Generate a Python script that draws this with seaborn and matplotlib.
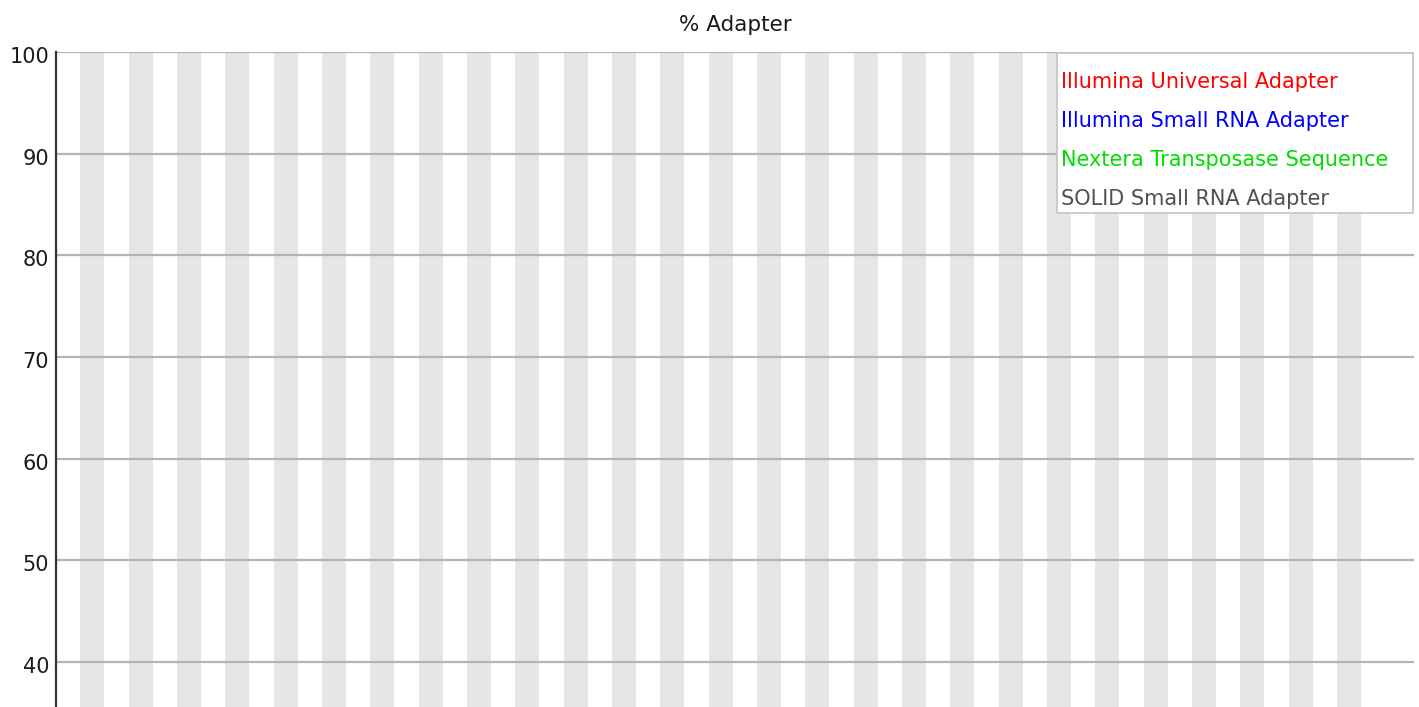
import numpy as np
import pandas as pd
import matplotlib
matplotlib.use("Agg")
import matplotlib.pyplot as plt
from matplotlib.patches import Rectangle
from matplotlib.transforms import ScaledTranslation
import seaborn as sns


# Position groups along the read (x categories, 54 groups)
positions = ["1", "2", "3", "4", "5", "6", "7", "8", "9",
             "10-11", "12-13", "14-15", "16-17", "18-19", "20-21", "22-23", "24-25",
             "26-27", "28-29", "30-31", "32-33", "34-35", "36-37", "38-39", "40-41",
             "42-43", "44-45", "46-47", "48-49", "50-51", "52-53", "54-55", "56-57",
             "58-59", "60-61", "62-63", "64-65", "66-67", "68-69", "70-71", "72-73",
             "74-75", "76-77", "78-79", "80-81", "82-83", "84-85", "86-87", "88-89",
             "90-91", "92-93", "94-95", "96-97", "98-99"]

# % adapter per position (all at zero, below the visible part of the plot)
illumina_universal = [0.0, 0.0, 0.0, 0.0, 0.0, 0.0, 0.0, 0.0, 0.0, 0.0, 0.0, 0.0, 0.0, 0.0,
                      0.0, 0.0, 0.0, 0.0, 0.0, 0.0, 0.0, 0.0, 0.0, 0.0, 0.0, 0.0, 0.0, 0.0,
                      0.0, 0.0, 0.0, 0.0, 0.0, 0.0, 0.0, 0.0, 0.0, 0.0, 0.0, 0.0, 0.0, 0.0,
                      0.0, 0.0, 0.0, 0.0, 0.0, 0.0, 0.0, 0.0, 0.0, 0.0, 0.0, 0.0]
illumina_small_rna = [0.0, 0.0, 0.0, 0.0, 0.0, 0.0, 0.0, 0.0, 0.0, 0.0, 0.0, 0.0, 0.0, 0.0,
                      0.0, 0.0, 0.0, 0.0, 0.0, 0.0, 0.0, 0.0, 0.0, 0.0, 0.0, 0.0, 0.0, 0.0,
                      0.0, 0.0, 0.0, 0.0, 0.0, 0.0, 0.0, 0.0, 0.0, 0.0, 0.0, 0.0, 0.0, 0.0,
                      0.0, 0.0, 0.0, 0.0, 0.0, 0.0, 0.0, 0.0, 0.0, 0.0, 0.0, 0.0]
nextera = [0.0, 0.0, 0.0, 0.0, 0.0, 0.0, 0.0, 0.0, 0.0, 0.0, 0.0, 0.0, 0.0, 0.0,
           0.0, 0.0, 0.0, 0.0, 0.0, 0.0, 0.0, 0.0, 0.0, 0.0, 0.0, 0.0, 0.0, 0.0,
           0.0, 0.0, 0.0, 0.0, 0.0, 0.0, 0.0, 0.0, 0.0, 0.0, 0.0, 0.0, 0.0, 0.0,
           0.0, 0.0, 0.0, 0.0, 0.0, 0.0, 0.0, 0.0, 0.0, 0.0, 0.0, 0.0]
solid_small_rna = [0.0, 0.0, 0.0, 0.0, 0.0, 0.0, 0.0, 0.0, 0.0, 0.0, 0.0, 0.0, 0.0, 0.0,
                   0.0, 0.0, 0.0, 0.0, 0.0, 0.0, 0.0, 0.0, 0.0, 0.0, 0.0, 0.0, 0.0, 0.0,
                   0.0, 0.0, 0.0, 0.0, 0.0, 0.0, 0.0, 0.0, 0.0, 0.0, 0.0, 0.0, 0.0, 0.0,
                   0.0, 0.0, 0.0, 0.0, 0.0, 0.0, 0.0, 0.0, 0.0, 0.0, 0.0, 0.0]

series_names = ["Illumina Universal Adapter", "Illumina Small RNA Adapter",
                "Nextera Transposase Sequence", "SOLID Small RNA Adapter"]
series_colors = ["#ff0000", "#0000ff", "#00dd00", "#505050"]
y_ticks = [40, 50, 60, 70, 80, 90, 100]

# long table for seaborn
idx = np.arange(len(positions)) + 0.5
frames = []
for name, vals in zip(series_names, [illumina_universal, illumina_small_rna, nextera, solid_small_rna]):
    frames.append(pd.DataFrame({"x": idx, "pct": vals, "series": name}))
df = pd.concat(frames, ignore_index=True)

sns.set_style("white")
plt.rcParams["font.family"] = ["DejaVu Sans"]

W, H = 1419, 707
fig = plt.figure(figsize=(W / 100, H / 100), dpi=100)
ax = fig.add_axes([56 / W, 0, (1414 - 56) / W, (707 - 52) / H])

# alternating stripes per position group
for i in range(len(positions)):
    if i % 2 == 1:
        ax.axvspan(i, i + 1, color="#e6e6e6", lw=0, zorder=0)

sns.lineplot(data=df, x="x", y="pct", hue="series", palette=dict(zip(series_names, series_colors)),
             legend=False, ax=ax, lw=2, zorder=3)

cat_w = (1361 - 56) / len(positions)
ax.set_xlim(0, (1414 - 56) / cat_w)
ax.set_ylim(100 - (707 - 52) / 10.167, 100)
ax.set_yticks(y_ticks)
ax.set_yticklabels([str(t) for t in y_ticks], fontsize=15, color="#1a1a1a")
ax.set_xticks([])
ax.set_xlabel("")
ax.set_ylabel("")
ax.tick_params(axis="y", length=0, pad=5)
# labels sit a touch below their grid line in the original
for lab in ax.get_yticklabels():
    lab.set_transform(lab.get_transform() + ScaledTranslation(0, -3 / 100, fig.dpi_scale_trans))

ax.set_axisbelow(False)
ax.yaxis.grid(True, color="#b4b4b4", lw=1.6)
ax.xaxis.grid(False)
for s in ["top", "right", "bottom"]:
    ax.spines[s].set_visible(False)
ax.spines["left"].set_color("#333333")
ax.spines["left"].set_linewidth(1.6)
ax.spines["left"].set_zorder(4)

fig.text(735 / W, 1 - 25 / H, "% Adapter", ha="center", va="center", fontsize=15.5, color="#1a1a1a")

# legend box drawn the way the original tool does it
lx0, ly0, lx1, ly1 = 1057, 53, 1413, 213
fig.patches.append(Rectangle((lx0 / W, 1 - ly1 / H), (lx1 - lx0) / W, (ly1 - ly0) / H,
                             transform=fig.transFigure, facecolor="white",
                             edgecolor="#c4c4c4", lw=1.2, zorder=5))
for k, (name, col) in enumerate(zip(series_names, series_colors)):
    fig.text(1061 / W, 1 - (82 + 39 * k) / H, name, ha="left", va="center",
             fontsize=15, color=col, zorder=6)

fig.savefig("out.png", dpi=100)
